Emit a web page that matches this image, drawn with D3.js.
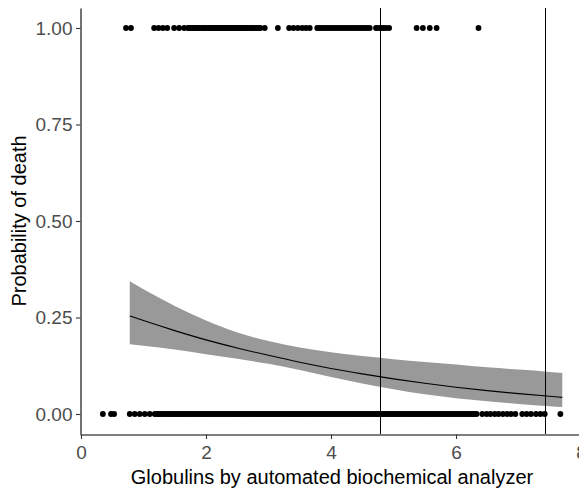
<!DOCTYPE html>
<html>
<head>
<meta charset="utf-8">
<script src="https://cdn.jsdelivr.net/npm/d3@7"></script>
<style>
  html, body { margin: 0; padding: 0; background: #fff; }
  svg { display: block; }
</style>
</head>
<body>
<svg id="chart" width="579" height="488"></svg>
<script>
// ---- data ----
const diedX = [0.72, 0.80,
  1.17, 1.24, 1.31, 1.38,
  1.49, 1.57, 1.65,
  1.71, 1.74, 1.76, 1.79, 1.82, 1.85, 1.87, 1.90, 1.93, 1.96, 1.98, 2.01, 2.04, 2.07, 2.09, 2.12, 2.15, 2.18, 2.20,
  2.23, 2.26, 2.29, 2.31, 2.34, 2.37, 2.40, 2.42, 2.45, 2.48, 2.51, 2.53, 2.56, 2.59, 2.62, 2.64, 2.67, 2.70, 2.73,
  2.75, 2.78, 2.81, 2.84, 2.87, 2.94,
  3.15,
  3.33, 3.40, 3.47, 3.54, 3.60, 3.66,
  3.78, 3.82, 3.86, 3.90, 3.94, 3.98, 4.02, 4.06, 4.10, 4.14, 4.18, 4.22, 4.26, 4.30, 4.34, 4.38, 4.42, 4.46, 4.50,
  4.54, 4.58, 4.62, 4.72, 4.76, 4.80, 4.84, 4.88, 4.93,
  5.37, 5.47, 5.58, 5.69,
  6.36];
const survivedX = [0.35, 0.48, 0.53,
  0.78, 0.86, 0.94, 1.02, 1.10, 1.18,
  1.22, 1.25, 1.28, 1.31, 1.34, 1.37, 1.40, 1.43, 1.46, 1.49, 1.52, 1.55, 1.58, 1.61, 1.64, 1.67, 1.70, 1.73, 1.76,
  1.79, 1.82, 1.85, 1.88, 1.91, 1.94, 1.97, 2.00, 2.03, 2.06, 2.09, 2.12, 2.15, 2.18, 2.21, 2.24, 2.27, 2.30, 2.33,
  2.36, 2.39, 2.42, 2.45, 2.48, 2.51, 2.54, 2.57, 2.60, 2.63, 2.66, 2.69, 2.72, 2.75, 2.78, 2.81, 2.84, 2.87, 2.90,
  2.93, 2.96, 2.99, 3.02, 3.05, 3.08, 3.11, 3.14, 3.17, 3.20, 3.23, 3.26, 3.29, 3.32, 3.35, 3.38, 3.41, 3.44, 3.47,
  3.50, 3.53, 3.56, 3.59, 3.62, 3.65, 3.68, 3.71, 3.74, 3.77, 3.80, 3.83, 3.86, 3.89, 3.92, 3.95, 3.98, 4.01, 4.04,
  4.07, 4.10, 4.13, 4.16, 4.19, 4.22, 4.25, 4.28, 4.31, 4.34, 4.37, 4.40, 4.43, 4.46, 4.49, 4.52, 4.55, 4.58, 4.61,
  4.64, 4.67, 4.70, 4.73, 4.76, 4.79, 4.82, 4.85, 4.88, 4.91, 4.94, 4.97, 5.00, 5.03, 5.06, 5.09, 5.12, 5.15, 5.18,
  5.21, 5.24, 5.27, 5.30, 5.33, 5.36, 5.39, 5.42, 5.45, 5.48, 5.51, 5.54, 5.57, 5.60, 5.63, 5.66, 5.69, 5.72, 5.75,
  5.78, 5.81, 5.84, 5.87, 5.90, 5.93, 5.96, 5.99, 6.02, 6.05, 6.08, 6.11, 6.14, 6.17, 6.20, 6.23, 6.26, 6.29, 6.33,
  6.42, 6.49, 6.55, 6.62, 6.68, 6.75, 6.82, 6.88, 6.95,
  7.06, 7.13, 7.20, 7.28, 7.35, 7.42,
  7.67];
const fitX     = [0.78, 1.0, 1.5, 2.0, 2.5, 3.0, 3.5, 4.0, 4.5, 5.0, 5.5, 6.0, 6.5, 7.0, 7.5, 7.7];
const fitProb  = [0.254, 0.242, 0.216, 0.192, 0.171, 0.152, 0.134, 0.118, 0.104, 0.091, 0.0795, 0.0695, 0.0605, 0.0527, 0.0458, 0.0432];
const fitLower = [0.181, 0.177, 0.167, 0.155, 0.143, 0.130, 0.114, 0.096, 0.079, 0.064, 0.051, 0.041, 0.033, 0.026, 0.020, 0.018];
const fitUpper = [0.344, 0.323, 0.280, 0.242, 0.211, 0.189, 0.172, 0.160, 0.150, 0.142, 0.135, 0.128, 0.121, 0.115, 0.109, 0.106];
const cutoffs  = [4.776, 7.42];
const xTicks   = [0, 2, 4, 6, 8];
const yTicks   = [0, 0.25, 0.5, 0.75, 1];
const xTitle   = "Globulins by automated biochemical analyzer";
const yTitle   = "Probability of death";

// ---- layout ----
const svg = d3.select("#chart");
const panel = { left: 80, right: 590, top: 8, bottom: 434 };

const x = d3.scaleLinear().domain([-0.016, 8.144]).range([panel.left, panel.right]);
const y = d3.scaleLinear().domain([-0.0518, 1.0518]).range([panel.bottom, panel.top]);

svg.append("defs").append("clipPath").attr("id", "clip")
  .append("rect").attr("x", panel.left).attr("y", panel.top)
  .attr("width", panel.right - panel.left).attr("height", panel.bottom - panel.top);

const g = svg.append("g").attr("clip-path", "url(#clip)");

const fit = fitX.map((v, i) => ({ x: v, p: fitProb[i], lo: fitLower[i], hi: fitUpper[i] }));

// ribbon
g.append("path").datum(fit)
  .attr("fill", "#999999")
  .attr("d", d3.area().x(d => x(d.x)).y0(d => y(d.lo)).y1(d => y(d.hi)).curve(d3.curveMonotoneX));

// fitted line
g.append("path").datum(fit)
  .attr("fill", "none").attr("stroke", "#000").attr("stroke-width", 1.1)
  .attr("d", d3.line().x(d => x(d.x)).y(d => y(d.p)).curve(d3.curveMonotoneX));

// points
g.selectAll("circle.died").data(diedX).join("circle")
  .attr("class", "died").attr("cx", d => x(d)).attr("cy", y(1)).attr("r", 2.9).attr("fill", "#000");
g.selectAll("circle.surv").data(survivedX).join("circle")
  .attr("class", "surv").attr("cx", d => x(d)).attr("cy", y(0)).attr("r", 2.9).attr("fill", "#000");

// vertical cutoff lines
g.selectAll("line.cut").data(cutoffs).join("line")
  .attr("class", "cut")
  .attr("x1", d => Math.round(x(d)) + 0.5).attr("x2", d => Math.round(x(d)) + 0.5)
  .attr("y1", panel.top).attr("y2", panel.bottom)
  .attr("stroke", "#000").attr("stroke-width", 1);

// axes
const font = "'Liberation Sans', Arial, sans-serif";
const yAxis = d3.axisLeft(y).tickValues(yTicks).tickFormat(d3.format(".2f"))
  .tickSize(4.5).tickSizeOuter(0).tickPadding(3.5);
const xAxis = d3.axisBottom(x).tickValues(xTicks).tickFormat(d3.format("d"))
  .tickSize(4.5).tickSizeOuter(0).tickPadding(6.5);

const ya = svg.append("g").attr("transform", `translate(${panel.left + 0.5},0)`).call(yAxis);
const xa = svg.append("g").attr("transform", `translate(0,${panel.bottom + 0.5})`).call(xAxis);

[ya, xa].forEach(a => {
  a.select(".domain").attr("stroke", "#000").attr("stroke-width", 1.1);
  a.selectAll(".tick line").attr("stroke", "#333").attr("stroke-width", 1.1);
  a.selectAll(".tick text").attr("fill", "#4D4D4D").style("font-family", font).style("font-size", "19px");
});

// titles
svg.append("text")
  .attr("x", 332).attr("y", 484)
  .attr("text-anchor", "middle")
  .style("font-family", font).style("font-size", "20px").attr("fill", "#000")
  .text(xTitle);

svg.append("text")
  .attr("transform", "translate(26,221) rotate(-90)")
  .attr("text-anchor", "middle")
  .style("font-family", font).style("font-size", "20px").attr("fill", "#000")
  .text(yTitle);
</script>
</body>
</html>
